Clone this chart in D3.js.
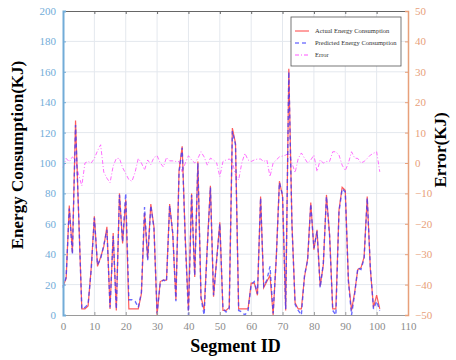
<!DOCTYPE html>
<html>
<head>
<meta charset="utf-8">
<script src="https://cdn.jsdelivr.net/npm/d3@7"></script>
<style>
  html, body { margin: 0; padding: 0; background: #fff; }
  svg { display: block; }
</style>
</head>
<body>
<svg id="chart" width="456" height="360"></svg>
<script>
// Values, one per segment ID (0..101).
const actual = [
  19, 24, 72, 41, 128, 65, 4, 4, 6, 31, 65, 32, 38, 45, 58, 4, 54, 3, 80, 47,
  76, 4, 4, 4, 4, 14, 67, 37, 73, 58, 0, 22, 23, 23, 73, 53, 10, 95, 111, 50,
  3, 80, 25, 101, 12, 3, 45, 85, 12, 37, 61, 3, 3, 5, 123, 113, 4, 4, 4, 4,
  21, 21, 13, 78, 18, 22, 26, 0, 38, 88, 78, 3, 162, 60, 8, 4, 4, 25, 37, 74,
  43, 56, 19, 33, 79, 53, 4, 4, 69, 84, 82, 23, 3, 15, 30, 31, 38, 78, 30, 5,
  13, 4
];
const predicted = [
  18, 25, 70, 40, 125, 66, 4, 5, 7, 30, 64, 33, 37, 46, 56, 5, 52, 4, 79, 48,
  80, 10, 10, 9, 5, 15, 71, 36, 72, 57, 1, 21, 23, 22, 72, 54, 9, 94, 110, 48,
  0, 79, 26, 100, 11, 0, 44, 84, 13, 36, 60, 4, 2, 4, 121, 112, 3, 2, 0, 3,
  20, 22, 14, 77, 19, 23, 32, 1, 37, 87, 79, 4, 160, 59, 7, 3, 0, 26, 36, 73,
  44, 55, 18, 34, 78, 52, 3, 0, 68, 83, 81, 22, 0, 14, 31, 30, 37, 77, 31, 4,
  9, 3
];
const errors = [
  -1.5, 1.5, 0.4, 2, 1, -4, -7.5, 0, 0.5, 0, 1.5, 4, 6, -3, -5, -6.5, -1, 1.5, 1.5, -1.5,
  -3.5, -5.5, -6, -3, 1.5, 0, -2.3, 1, -0.5, 1.8, 2.4, 0, -1.3, 1.8, 0.7, 0.7, 0.5, 0.5, -2.9, 0,
  2.4, 1, 0, 1.5, 3.7, 2, -0.7, 1.6, 1, 0, -4.5, 0.5, 1, 1.3, 0.5, -4, -5.6, 0, 3.2, 1,
  0.5, 1, 1.3, 1.3, 0.5, 1, -4.5, 0, 1, 2, 2.3, 2.6, 3.3, 0, -3.2, 1.5, 3.3, 1.6, 0, 1,
  2.6, -2.8, 1, 0, 0.5, 0.5, 3.7, 3.7, 2.6, -0.7, -2.5, 0, 3.7, 1.6, 1.5, 0, 0.5, 1.5, 2.6, 3.2,
  3.7, -2.9
];
const xTicks = [0, 10, 20, 30, 40, 50, 60, 70, 80, 90, 100, 110];
const leftTicks = [0, 20, 40, 60, 80, 100, 120, 140, 160, 180, 200];
const rightTicks = [-50, -40, -30, -20, -10, 0, 10, 20, 30, 40, 50];
const legendLabels = ['Actual Energy Consumption', 'Predicted Energy Consumption', 'Error'];

const margin = { top: 11, right: 48, bottom: 45, left: 63 };
const width = 456;
const height = 360;
const LEFT_COLOUR = '#72acd8';
const RIGHT_COLOUR = '#e8a07a';
const SERIF = '"Liberation Serif", "DejaVu Serif", serif';

const svg = d3.select('#chart');

const x = d3.scaleLinear().domain([0, 110]).range([margin.left, width - margin.right]);
const yLeft = d3.scaleLinear().domain([0, 200]).range([height - margin.bottom, margin.top]);
const yRight = d3.scaleLinear().domain([-50, 50]).range([height - margin.bottom, margin.top]);

// Grid lines.
const grid = svg.append('g').attr('stroke', '#e4e8ee').attr('stroke-width', 1);
grid.selectAll('line.v')
  .data(xTicks.slice(1, -1))
  .join('line')
  .attr('x1', (d) => x(d)).attr('x2', (d) => x(d))
  .attr('y1', margin.top).attr('y2', height - margin.bottom);
grid.selectAll('line.h')
  .data(leftTicks.slice(1, -1))
  .join('line')
  .attr('x1', margin.left).attr('x2', width - margin.right)
  .attr('y1', (d) => yLeft(d)).attr('y2', (d) => yLeft(d));

// Lines.
const plot = svg.append('g');
const lineLeft = d3.line().x((_, i) => x(i)).y((d) => yLeft(d));
const lineRight = d3.line().x((_, i) => x(i)).y((d) => yRight(d));

plot.append('path')
  .attr('d', lineRight(errors))
  .attr('fill', 'none')
  .attr('stroke', '#ff55ff')
  .attr('stroke-opacity', 0.85)
  .attr('stroke-width', 1)
  .attr('stroke-dasharray', '4,2,1,2');

plot.append('path')
  .attr('d', lineLeft(actual))
  .attr('fill', 'none')
  .attr('stroke', '#ff4040')
  .attr('stroke-opacity', 0.85)
  .attr('stroke-width', 1.2);

plot.append('path')
  .attr('d', lineLeft(predicted))
  .attr('fill', 'none')
  .attr('stroke', '#3a3aff')
  .attr('stroke-opacity', 0.75)
  .attr('stroke-width', 1.4)
  .attr('stroke-dasharray', '4,3');

// Axes.
const bottomAxis = svg.append('g')
  .attr('transform', `translate(0,${height - margin.bottom})`)
  .call(d3.axisBottom(x).tickValues(xTicks).tickSize(-3).tickPadding(7));
bottomAxis.select('.domain').attr('stroke', '#9a9a9a');
bottomAxis.selectAll('.tick line').attr('stroke', '#9a9a9a');
bottomAxis.selectAll('text')
  .attr('fill', '#8c8c8c')
  .style('font-family', SERIF)
  .style('font-size', '11px');

const topAxis = svg.append('g')
  .attr('transform', `translate(0,${margin.top})`)
  .call(d3.axisTop(x).tickValues(xTicks).tickSize(-3).tickFormat(''));
topAxis.select('.domain').attr('stroke', '#666');
topAxis.selectAll('.tick line').attr('stroke', '#666');

const leftAxis = svg.append('g')
  .attr('transform', `translate(${margin.left},0)`)
  .call(d3.axisLeft(yLeft).tickValues(leftTicks).tickSize(-3).tickPadding(7));
leftAxis.select('.domain').attr('stroke', LEFT_COLOUR).attr('stroke-width', 2);
leftAxis.selectAll('.tick line').attr('stroke', LEFT_COLOUR);
leftAxis.selectAll('text')
  .attr('fill', LEFT_COLOUR)
  .style('font-family', SERIF)
  .style('font-size', '11px');

const rightAxis = svg.append('g')
  .attr('transform', `translate(${width - margin.right},0)`)
  .call(d3.axisRight(yRight).tickValues(rightTicks).tickSize(-3).tickPadding(7));
rightAxis.select('.domain').attr('stroke', RIGHT_COLOUR).attr('stroke-width', 1.5);
rightAxis.selectAll('.tick line').attr('stroke', RIGHT_COLOUR);
rightAxis.selectAll('text')
  .attr('fill', RIGHT_COLOUR)
  .style('font-family', SERIF)
  .style('font-size', '11px');

// Axis titles.
svg.append('text')
  .attr('x', (margin.left + width - margin.right) / 2)
  .attr('y', 352)
  .attr('text-anchor', 'middle')
  .style('font-family', SERIF)
  .style('font-weight', 'bold')
  .style('font-size', '18px')
  .text('Segment ID');

svg.append('text')
  .attr('transform', 'translate(23,155) rotate(-90)')
  .attr('text-anchor', 'middle')
  .style('font-family', SERIF)
  .style('font-weight', 'bold')
  .style('font-size', '17px')
  .text('Energy Consumption(KJ)');

svg.append('text')
  .attr('transform', 'translate(446,150) rotate(-90)')
  .attr('text-anchor', 'middle')
  .style('font-family', SERIF)
  .style('font-weight', 'bold')
  .style('font-size', '17px')
  .text('Error(KJ)');

// Legend.
const legend = svg.append('g').attr('transform', 'translate(291,17)');
legend.append('rect')
  .attr('width', 110).attr('height', 49)
  .attr('fill', '#fff')
  .attr('stroke', '#555')
  .attr('stroke-width', 0.8);

const legendStyles = [
  { stroke: '#ff4040', dash: null },
  { stroke: '#3a3aff', dash: '4,3' },
  { stroke: '#ff55ff', dash: '4,2,1,2' },
];
const legendRows = legend.selectAll('g.row')
  .data(legendLabels)
  .join('g')
  .attr('transform', (_, i) => `translate(0,${14 + i * 12})`);
legendRows.append('line')
  .attr('x1', 4).attr('x2', 18)
  .attr('stroke', (_, i) => legendStyles[i].stroke)
  .attr('stroke-width', 1)
  .attr('stroke-dasharray', (_, i) => legendStyles[i].dash);
legendRows.append('text')
  .attr('x', 24)
  .attr('dy', '0.35em')
  .attr('fill', '#333')
  .style('font-family', SERIF)
  .style('font-size', '6.5px')
  .text((d) => d);
</script>
</body>
</html>
